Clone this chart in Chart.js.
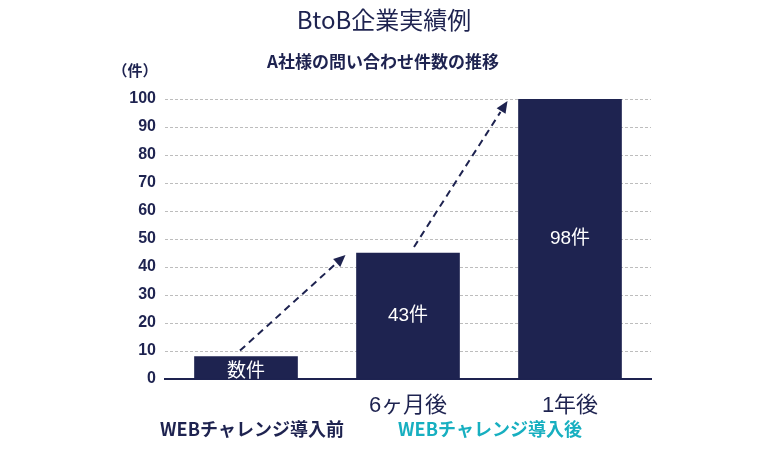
<!DOCTYPE html>
<html>
<head>
<meta charset="utf-8">
<script src="https://cdn.jsdelivr.net/npm/chart.js@4"></script>
<style>
  html, body { margin: 0; padding: 0; background: #fff; }
  #wrap { width: 768px; height: 451px; }
</style>
</head>
<body>
<div id="wrap"><canvas id="caseChart"></canvas></div>
<script>
const categories = ['', '6ヶ月後', '1年後'];
const counts = [8, 45, 100];
const barLabels = ['数件', '43件', '98件'];
const yTicks = [0, 10, 20, 30, 40, 50, 60, 70, 80, 90, 100];

const navy = '#1e2350';
const teal = '#17afc0';
const jpFont = '"Noto Sans CJK JP", "Noto Sans", sans-serif';
const numFont = '"Liberation Sans", "Noto Sans CJK JP", sans-serif';

// titles, bar labels, arrows and the bottom captions
const decorPlugin = {
    id: 'decor',
    afterDatasetsDraw(chart) {
        const ctx = chart.ctx;
        const bars = chart.getDatasetMeta(0).data;
        ctx.save();

        // labels inside the bars
        ctx.fillStyle = '#ffffff';
        ctx.textAlign = 'center';
        ctx.textBaseline = 'middle';
        bars.forEach((bar, i) => {
            ctx.font = (i === 0 ? '19px ' + jpFont : '19px ' + numFont);
            ctx.fillText(barLabels[i], bar.x, (bar.y + bar.base) / 2 + (i === 0 ? 2 : 0));
        });

        // dashed arrows between the bar tops
        ctx.strokeStyle = navy;
        ctx.fillStyle = navy;
        ctx.lineWidth = 2;
        for (let i = 0; i < bars.length - 1; i++) {
            const a = bars[i];
            const b = bars[i + 1];
            const x0 = a.x + (i === 0 ? -6 : 6);
            const y0 = a.y - 6;
            const x1 = b.x - b.width / 2 - 11;
            const y1 = b.y + 2;
            const ang = Math.atan2(y1 - y0, x1 - x0);
            const head = 13;
            ctx.setLineDash([7, 5]);
            ctx.beginPath();
            ctx.moveTo(x0, y0);
            ctx.lineTo(x1 - Math.cos(ang) * head, y1 - Math.sin(ang) * head);
            ctx.stroke();
            ctx.setLineDash([]);
            ctx.beginPath();
            ctx.moveTo(x1, y1);
            ctx.lineTo(x1 - Math.cos(ang - 0.42) * head, y1 - Math.sin(ang - 0.42) * head);
            ctx.lineTo(x1 - Math.cos(ang + 0.42) * head, y1 - Math.sin(ang + 0.42) * head);
            ctx.closePath();
            ctx.fill();
        }

        // headings
        ctx.fillStyle = navy;
        ctx.textAlign = 'center';
        ctx.font = '24px ' + jpFont;
        ctx.fillText('BtoB企業実績例', 384, 20);
        ctx.font = 'bold 17px ' + jpFont;
        ctx.fillText('A社様の問い合わせ件数の推移', 383, 62);
        ctx.font = 'bold 15px ' + jpFont;
        ctx.fillText('（件）', 135, 70);

        // captions under the axis
        ctx.font = 'bold 18px ' + jpFont;
        ctx.fillText('WEBチャレンジ導入前', 252, 429);
        ctx.fillStyle = teal;
        ctx.fillText('WEBチャレンジ導入後', 490, 429);
        ctx.restore();
    }
};

function initializeChart() {
    const ctx = document.getElementById('caseChart').getContext('2d');
    new Chart(ctx, {
        type: 'bar',
        data: {
            labels: categories,
            datasets: [{
                data: counts,
                backgroundColor: navy,
                barThickness: 103
            }]
        },
        options: {
            responsive: true,
            maintainAspectRatio: false,
            animation: false,
            layout: {
                padding: { left: 115, right: 117, top: 99, bottom: 0 }
            },
            scales: {
                x: {
                    afterFit: (s) => { s.height = 72; },
                    grid: { display: false },
                    border: { color: navy, width: 2 },
                    ticks: {
                        color: navy,
                        padding: 6,
                        font: { family: numFont, size: 22 }
                    }
                },
                y: {
                    min: 0,
                    max: 100,
                    afterFit: (s) => { s.width = 50; },
                    afterBuildTicks: (s) => { s.ticks = yTicks.map(v => ({ value: v })); },
                    border: { display: false },
                    grid: {
                        color: (c) => c.tick && c.tick.value === 0 ? 'rgba(0,0,0,0)' : '#bdbdbd',
                        lineWidth: 1,
                        drawTicks: false
                    },
                    ticks: {
                        color: navy,
                        padding: 9,
                        font: { family: '"Liberation Sans", Arial, sans-serif', size: 16, weight: 'bold' }
                    }
                }
            },
            plugins: {
                legend: { display: false },
                tooltip: { enabled: false }
            }
        },
        plugins: [decorPlugin, {
            id: 'dashGrid',
            beforeDraw(chart) {
                chart.scales.y.options.grid.borderDash = [3, 2];
                chart.scales.y.options.border.dash = [3, 2];
            }
        }]
    });
}

document.addEventListener('DOMContentLoaded', initializeChart);
</script>
</body>
</html>
